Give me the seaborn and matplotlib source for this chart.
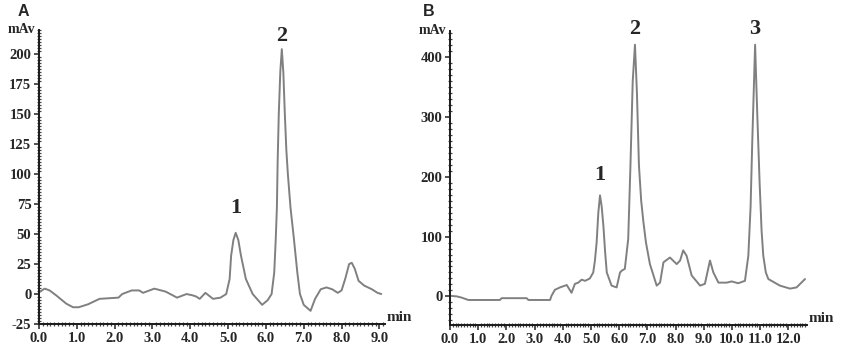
"""HPLC chromatograms, panels A and B."""

import matplotlib.pyplot as plt
from matplotlib.ticker import FixedLocator, MultipleLocator
import seaborn as sns

sns.set_style("ticks")
plt.rcParams["font.family"] = ["Liberation Serif", "DejaVu Serif"]

# panel A trace (min, mAv)
a_time = [0.0, 0.15, 0.28, 0.45, 0.72, 0.9, 1.05, 1.3, 1.6, 2.1, 2.2, 2.45,
          2.65, 2.75, 3.05, 3.35, 3.65, 3.9, 4.05, 4.15, 4.25, 4.4, 4.6, 4.8,
          4.95, 5.04, 5.08, 5.14, 5.2, 5.27, 5.34, 5.47, 5.65, 5.9, 6.05,
          6.15, 6.22, 6.26, 6.29, 6.31, 6.34, 6.38, 6.42, 6.46, 6.5, 6.54,
          6.58, 6.65, 6.74, 6.83, 6.9, 7.0, 7.18, 7.3, 7.45, 7.6, 7.75, 7.9,
          8.0, 8.1, 8.2, 8.27, 8.35, 8.45, 8.6, 8.8, 8.95, 9.05]
a_mav = [1.5, 4.5, 3, -1, -8, -11, -11, -8.5, -4, -3, 0, 3,
         3, 1, 4.5, 2, -3, 0, -1, -2, -4, 1, -4, -3,
         0, 12.5, 32, 45, 51, 45, 32, 12.5, 0, -9, -5,
         0, 18, 46, 72, 110, 150, 185, 204, 185, 150, 120,
         100, 72, 46, 18, 0, -9, -14, -4, 4, 5.5, 4, 1,
         3, 13, 25, 26, 21, 11, 7, 4, 1, 0]

# panel B trace (min, mAv)
b_time = [0.0, 0.24, 0.41, 0.65, 1.77, 1.83, 2.72, 2.78, 3.55, 3.6, 3.72,
          3.9, 4.14, 4.31, 4.43, 4.55, 4.67, 4.79, 4.96, 5.08, 5.14, 5.2,
          5.26, 5.32, 5.38, 5.44, 5.5, 5.56, 5.73, 5.91, 6.03, 6.09, 6.2,
          6.32, 6.4, 6.48, 6.56, 6.63, 6.7, 6.78, 6.86, 6.95, 7.09, 7.33,
          7.45, 7.57, 7.8, 8.04, 8.16, 8.27, 8.39, 8.57, 8.87, 9.04, 9.22,
          9.34, 9.52, 9.81, 9.99, 10.22, 10.46, 10.58, 10.66, 10.72, 10.82,
          10.9, 10.98, 11.05, 11.11, 11.2, 11.29, 11.7, 12.06, 12.29, 12.59]
b_mav = [1, 0, -2, -6, -6, -3, -3, -6, -6, 1, 11,
         15, 19, 6, 21, 23, 28, 26, 30, 40, 60, 90,
         140, 169, 150, 118, 75, 40, 18, 15, 40, 43, 46,
         96, 220, 360, 421, 340, 220, 160, 124, 90, 54, 18,
         23, 57, 65, 54, 60, 77, 68, 35, 18, 21, 60,
         40, 23, 23, 25, 22, 26, 68, 150, 260, 421,
         300, 190, 110, 68, 40, 29, 18, 13, 15, 29]

a_xticks = [0.0, 1.0, 2.0, 3.0, 4.0, 5.0, 6.0, 7.0, 8.0, 9.0]
a_yticks = [-25, 0, 25, 50, 75, 100, 125, 150, 175, 200]
b_xticks = [0.0, 1.0, 2.0, 3.0, 4.0, 5.0, 6.0, 7.0, 8.0, 9.0, 10.0, 11.0, 12.0]
b_yticks = [0, 100, 200, 300, 400]

a_peaks = [("1", 5.2, 72), ("2", 6.42, 215)]
b_peaks = [("1", 5.32, 203), ("2", 6.56, 447), ("3", 10.82, 447)]

line_color = "#808080"
font_bold = {"family": ["Liberation Serif", "DejaVu Serif"], "weight": "bold"}


def style_axis(ax, xticks, yticks, xlim, ylim, xminor, yminor):
    ax.set_xlim(*xlim)
    ax.set_ylim(*ylim)
    sns.despine(ax=ax)
    for side in ("left", "bottom"):
        ax.spines[side].set_linewidth(1.4)
        ax.spines[side].set_color("#1a1a1a")
    ax.xaxis.set_major_locator(FixedLocator(xticks))
    ax.yaxis.set_major_locator(FixedLocator(yticks))
    ax.xaxis.set_minor_locator(MultipleLocator(xminor))
    ax.yaxis.set_minor_locator(MultipleLocator(yminor))
    ax.set_xticklabels([f"{t:.1f}" for t in xticks], fontdict=font_bold)
    ax.set_yticklabels([f"{t:d}" for t in yticks], fontdict=font_bold)
    ax.tick_params(which="major", length=3.5, width=1.1, pad=2, labelsize=10.5,
                   color="#222222", direction="out")
    ax.tick_params(which="minor", length=3, width=0.9, color="#444444",
                   direction="inout")
    ax.set_xlabel("")
    ax.set_ylabel("")
    ax.text(-0.01, 1.0, "mAv", transform=ax.transAxes, ha="right",
            va="center", fontsize=10, fontdict=font_bold)
    ax.text(1.005, 0.0, "min", transform=ax.transAxes, ha="left",
            va="bottom", fontsize=11, fontdict=font_bold)


fig = plt.figure(figsize=(8.5, 3.44), dpi=100)
ax_a = fig.add_axes([0.0459, 0.058, 0.4071, 0.855])
ax_b = fig.add_axes([0.5294, 0.055, 0.42, 0.855])

sns.lineplot(x=a_time, y=a_mav, ax=ax_a, color=line_color, linewidth=1.4)
sns.lineplot(x=b_time, y=b_mav, ax=ax_b, color=line_color, linewidth=1.4)

style_axis(ax_a, a_xticks, a_yticks, (0, 9.15), (-25, 220), 0.1, 2.5)
style_axis(ax_b, b_xticks, b_yticks, (0, 12.66), (-48, 444), 0.1, 10)

for label, x, y in a_peaks:
    ax_a.text(x, y, label, ha="center", va="center", fontsize=16,
              fontdict=font_bold, clip_on=False)
for label, x, y in b_peaks:
    ax_b.text(x, y, label, ha="center", va="center", fontsize=16,
              fontdict=font_bold, clip_on=False)

fig.text(18 / 850, 1 - 11 / 344, "A", ha="left", va="center", fontsize=11.5,
         fontweight="bold", family="Liberation Sans")
fig.text(423 / 850, 1 - 11 / 344, "B", ha="left", va="center", fontsize=11.5,
         fontweight="bold", family="Liberation Sans")

fig.savefig("out.png", dpi=100)
